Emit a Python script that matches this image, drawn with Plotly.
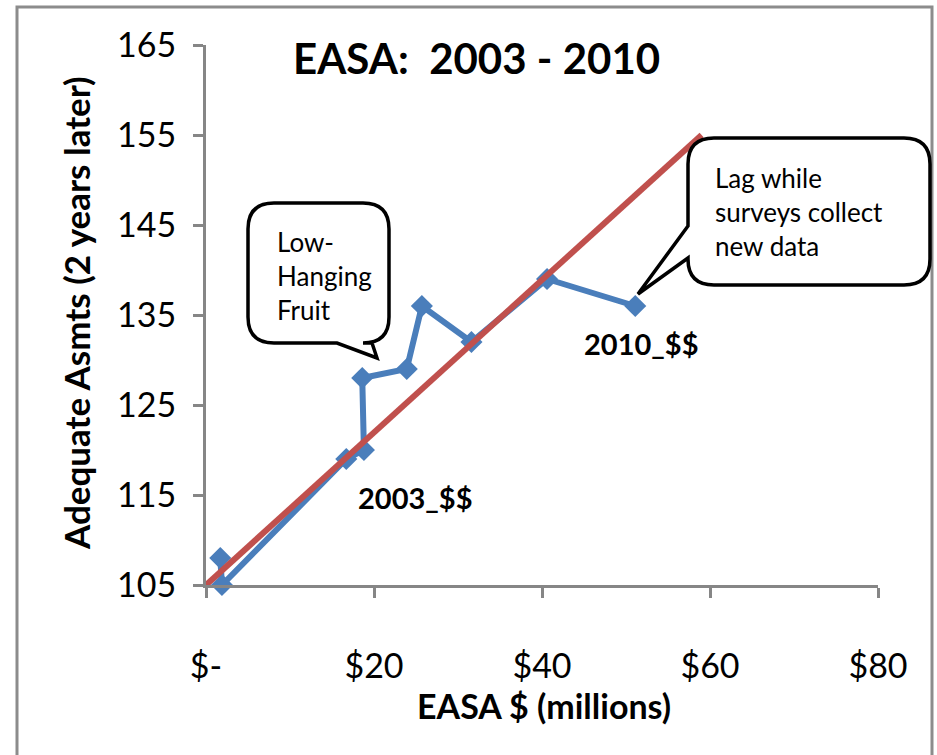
import plotly.graph_objects as go

# ---- data ----
easa_millions = [1.7, 1.9, 16.7, 18.8, 18.6, 23.9, 25.7, 31.6, 40.6, 51.1]
adequate_asmts = [108, 105, 119, 120, 128, 129, 136, 132, 139, 136]
trend_x = [0, 59]
trend_y = [105, 155]
x_tick_vals = [0, 20, 40, 60, 80]
x_tick_text = ["$-", "$20", "$40", "$60", "$80"]
y_tick_vals = [105, 115, 125, 135, 145, 155, 165]

W, H = 937, 755
L, R, T, B = 206, 878, 45, 585  # plot area in pixels

def px(x):
    return (x - L) / (R - L)

def py(y):
    return (B - y) / (B - T)

def path_from_px(points_cmds):
    out = []
    for cmd, pts in points_cmds:
        coords = [f"{px(a):.5f},{py(b):.5f}" for (a, b) in pts]
        out.append(cmd + " ".join(coords))
    return " ".join(out) + " Z"

def bubble(x0, y0, x1, y1, r, tail):
    side, ba, bb, tip = tail
    cmds = [("M", [(x0 + r, y0)]), ("L", [(x1 - r, y0)]), ("Q", [(x1, y0), (x1, y0 + r)]),
            ("L", [(x1, y1 - r)]), ("Q", [(x1, y1), (x1 - r, y1)])]
    if side == "bottom":
        cmds += [("L", [(bb, y1)]), ("L", [tip]), ("L", [(ba, y1)])]
    cmds += [("L", [(x0 + r, y1)]), ("Q", [(x0, y1), (x0, y1 - r)])]
    if side == "left":
        cmds += [("L", [(x0, bb)]), ("L", [tip]), ("L", [(x0, ba)])]
    cmds += [("L", [(x0, y0 + r)]), ("Q", [(x0, y0), (x0 + r, y0)])]
    return path_from_px(cmds)

fig = go.Figure()
fig.add_trace(go.Scatter(
    x=easa_millions, y=adequate_asmts, mode="lines+markers",
    line=dict(color="#4A7EBB", width=6),
    marker=dict(symbol="diamond", size=17, color="#4A7EBB"),
    cliponaxis=False, showlegend=False, hoverinfo="skip"))
fig.add_trace(go.Scatter(
    x=trend_x, y=trend_y, mode="lines",
    line=dict(color="#C0504D", width=6),
    cliponaxis=False, showlegend=False, hoverinfo="skip"))

axis_common = dict(showline=True, linecolor="#868686", linewidth=3,
                   ticks="outside", ticklen=10, tickwidth=3, tickcolor="#868686",
                   showgrid=False, zeroline=False,
                   tickfont=dict(family="Lato", size=34, color="black"))

fig.update_xaxes(range=[0, 80], tickvals=x_tick_vals, ticktext=x_tick_text,
                 ticklabelstandoff=39, **axis_common)
fig.update_yaxes(range=[105, 165], tickvals=y_tick_vals,
                 ticklabelstandoff=10, **axis_common)

shapes = [
    dict(type="rect", xref="paper", yref="paper", x0=px(17), x1=px(932), y0=py(7), y1=py(770),
         line=dict(color="#8c8c8c", width=3), fillcolor="rgba(0,0,0,0)", layer="below"),
    dict(type="path", xref="paper", yref="paper",
         path=bubble(248, 203, 389, 343, 26, ("bottom", 337, 372, (377, 358))),
         line=dict(color="black", width=3.5), fillcolor="white"),
    dict(type="path", xref="paper", yref="paper",
         path=bubble(688, 138, 930, 285, 26, ("left", 226, 258, (638, 294))),
         line=dict(color="black", width=3.5), fillcolor="white"),
]

annotations = [
    dict(text="<b>EASA:  2003 - 2010</b>", x=px(476), y=py(58), xref="paper", yref="paper",
         showarrow=False, font=dict(family="Lato", size=42, color="black"),
         xanchor="center", yanchor="middle"),
    dict(text="<b>EASA $ (millions)</b>", x=px(544), y=py(705), xref="paper", yref="paper",
         showarrow=False, font=dict(family="Lato", size=34, color="black"),
         xanchor="center", yanchor="middle"),
    dict(text="<b>Adequate Asmts (2 years later)</b>", x=px(76), y=py(313), xref="paper", yref="paper",
         showarrow=False, textangle=-90, font=dict(family="Lato", size=35, color="black"),
         xanchor="center", yanchor="middle"),
    dict(text="<b>2003_$$</b>", x=px(415), y=py(497), xref="paper", yref="paper",
         showarrow=False, font=dict(family="Lato", size=29, color="black"),
         xanchor="center", yanchor="middle"),
    dict(text="<b>2010_$$</b>", x=px(641), y=py(343), xref="paper", yref="paper",
         showarrow=False, font=dict(family="Lato", size=29, color="black"),
         xanchor="center", yanchor="middle"),
    dict(text="Low-<br>Hanging<br>Fruit", x=px(275), y=py(276), xref="paper", yref="paper",
         showarrow=False, align="left", font=dict(family="Lato", size=26, color="black"),
         xanchor="left", yanchor="middle"),
    dict(text="Lag while<br>surveys collect<br>new data", x=px(713), y=py(212), xref="paper", yref="paper",
         showarrow=False, align="left", font=dict(family="Lato", size=26, color="black"),
         xanchor="left", yanchor="middle"),
]

fig.update_layout(
    width=W, height=H,
    margin=dict(l=L, r=W - R, t=T, b=H - B),
    paper_bgcolor="white", plot_bgcolor="white",
    shapes=shapes, annotations=annotations,
)

fig.write_html("out.html")
